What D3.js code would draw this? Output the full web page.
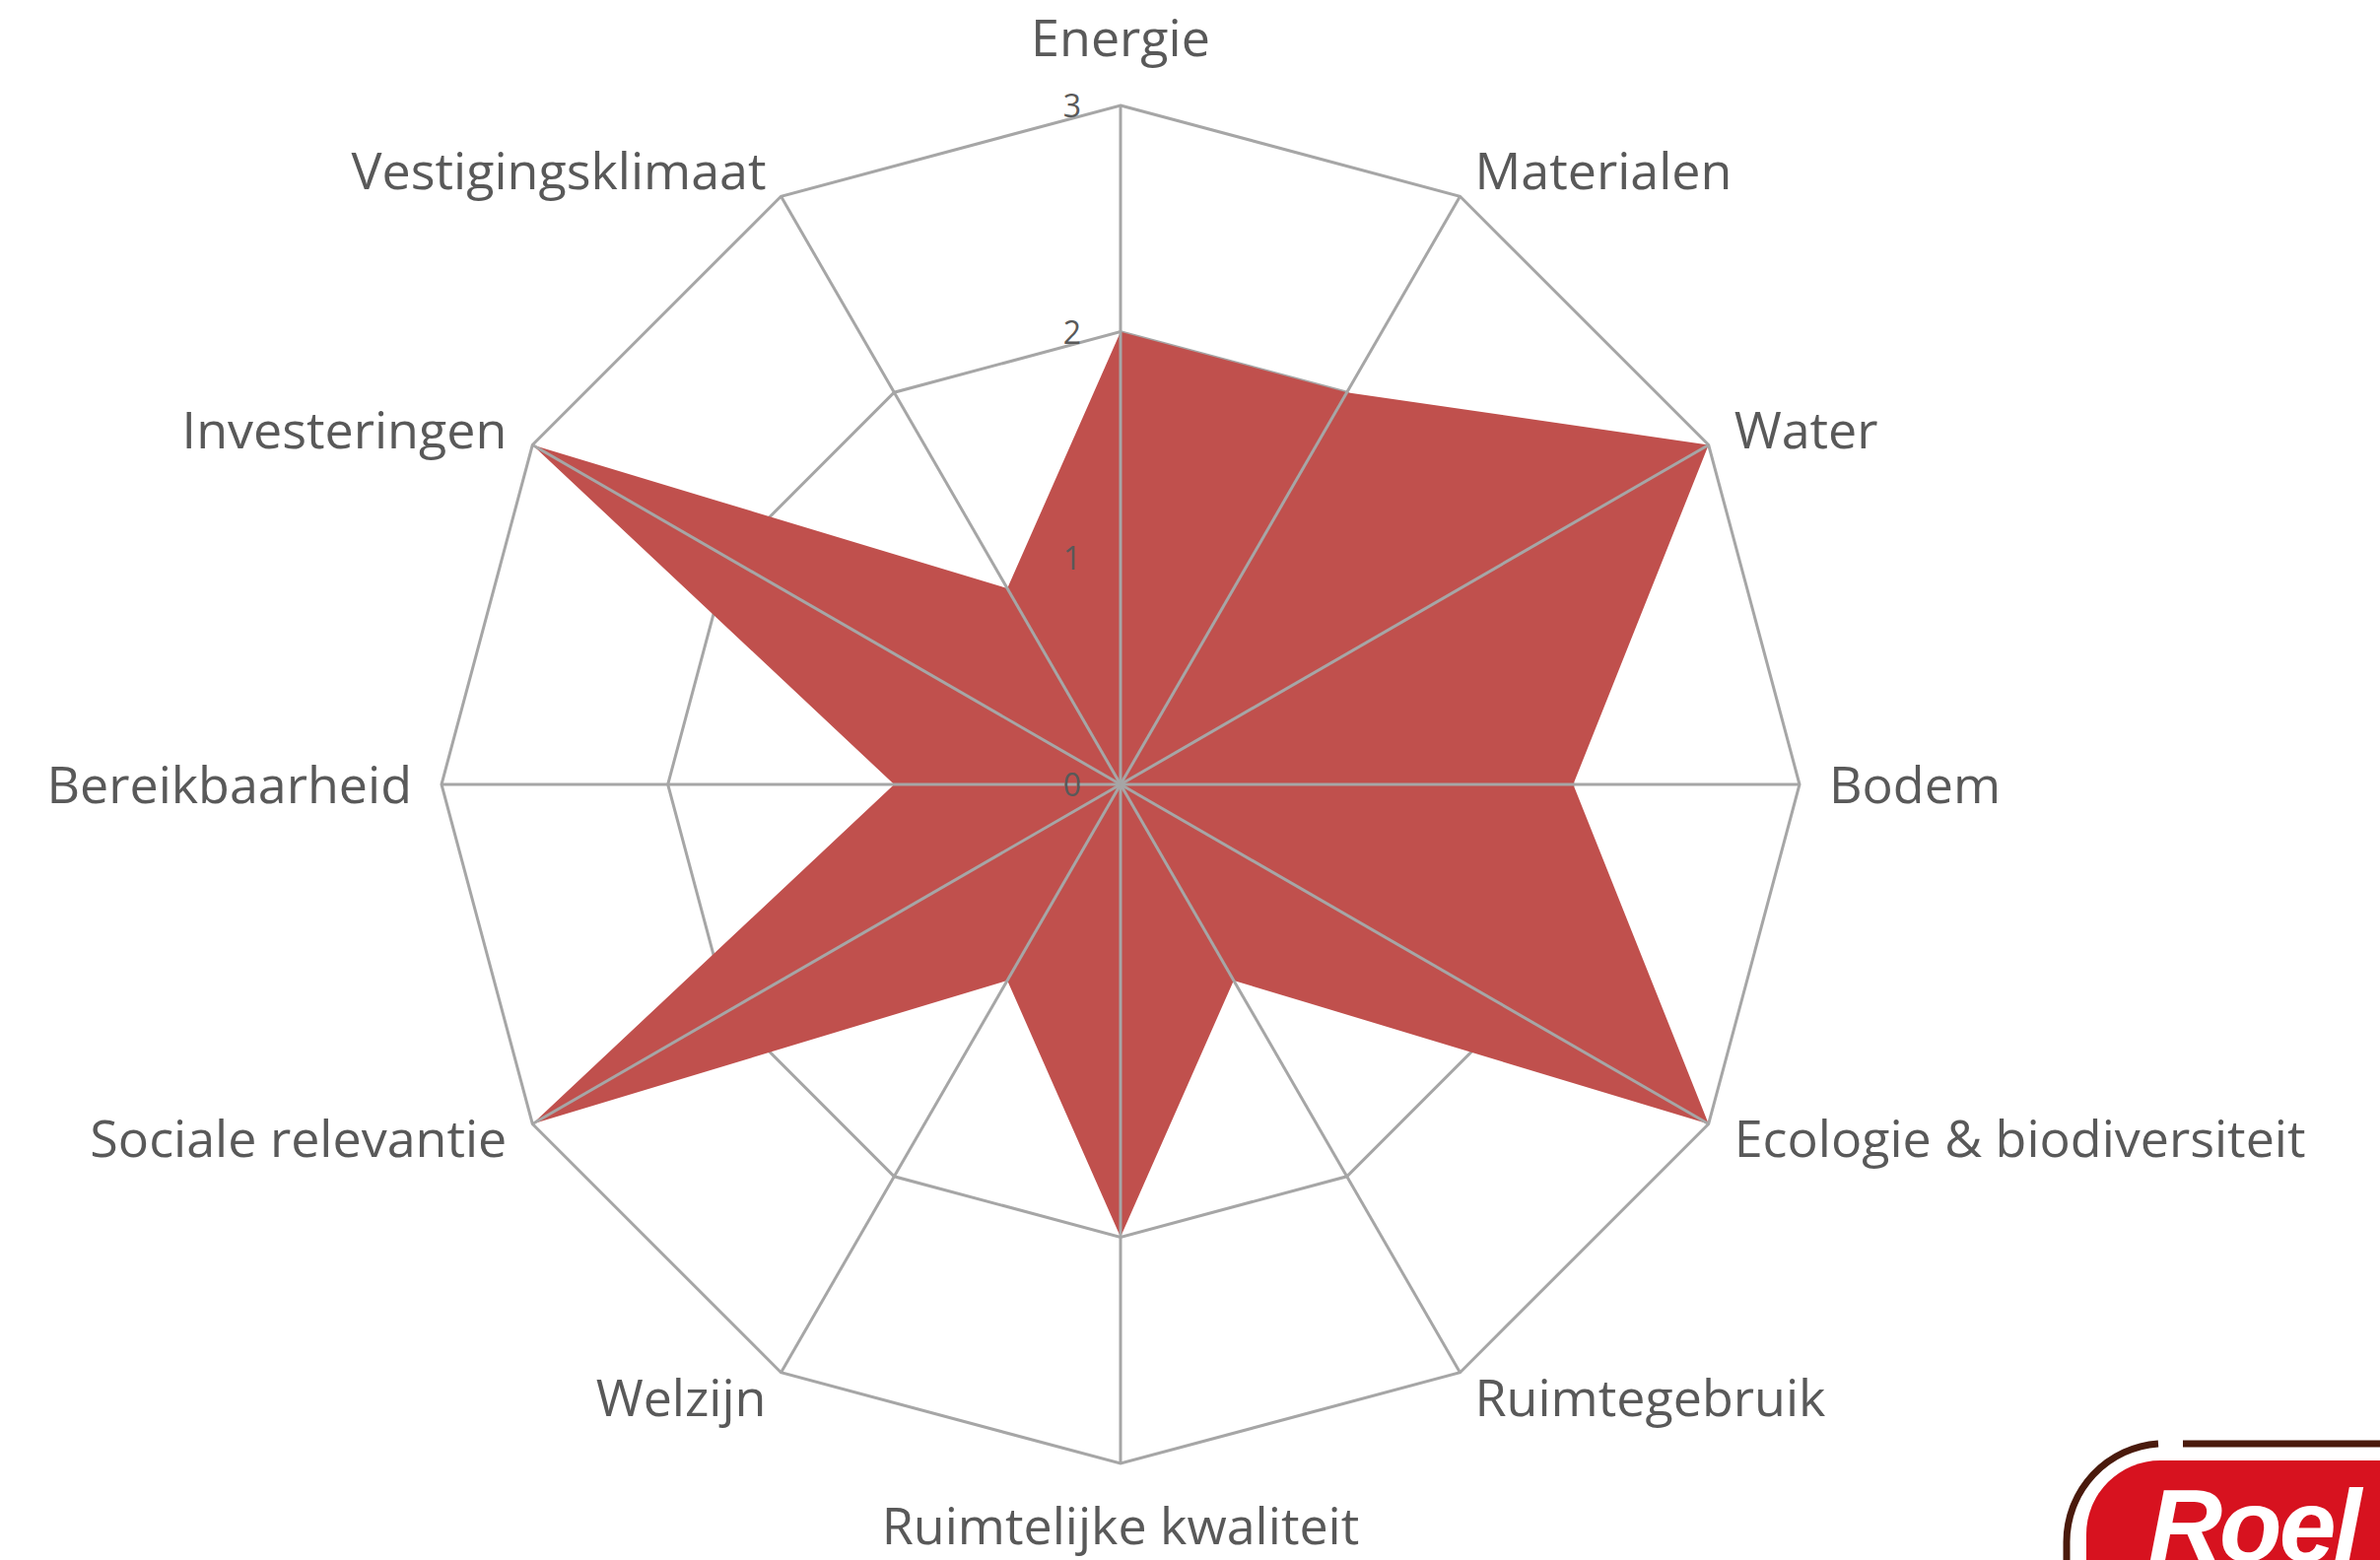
<!DOCTYPE html>
<html>
<head>
<meta charset="utf-8">
<script src="https://cdn.jsdelivr.net/npm/d3@7"></script>
<style>
  html, body { margin: 0; padding: 0; background: #ffffff; overflow: hidden; }
  svg { display: block; }
</style>
</head>
<body>
<svg id="chart" width="2415" height="1583"></svg>
<script>
// ---- data ----
const categories = ["Energie", "Materialen", "Water", "Bodem", "Ecologie & biodiversiteit",
  "Ruimtegebruik", "Ruimtelijke kwaliteit", "Welzijn", "Sociale relevantie",
  "Bereikbaarheid", "Investeringen", "Vestigingsklimaat"];
const values = [2, 2, 3, 2, 3, 1, 2, 1, 3, 1, 3, 1];
const tickValues = [0, 1, 2, 3];
const tickLabels = ["0", "1", "2", "3"];

// ---- layout ----
const W = 2415, H = 1583;
const cx = 1137, cy = 796, R = 689;
const gridColor = "#a6a6a6", textColor = "#595959", fillColor = "#c0504d";

const svg = d3.select("#chart");
const r = d3.scaleLinear().domain([0, 3]).range([0, R]);
const angle = d3.scaleLinear().domain([0, categories.length]).range([0, 2 * Math.PI]);

const pt = (i, v) => [cx + r(v) * Math.sin(angle(i)), cy - r(v) * Math.cos(angle(i))];

const g = svg.append("g");

// rings (under the fill)
const ringLine = d3.line();
tickValues.filter(t => t > 0).forEach(t => {
  const pts = categories.map((c, i) => pt(i, t));
  g.append("path")
    .attr("d", ringLine(pts) + "Z")
    .attr("fill", "none")
    .attr("stroke", gridColor)
    .attr("stroke-width", 3)
    .attr("stroke-linejoin", "miter");
});

// series area
const areaPts = values.map((v, i) => pt(i, v));
g.append("path")
  .attr("d", d3.line()(areaPts) + "Z")
  .attr("fill", fillColor)
  .attr("stroke", "none");

// spokes (over the fill)
categories.forEach((c, i) => {
  const [x, y] = pt(i, 3);
  g.append("line")
    .attr("x1", cx).attr("y1", cy)
    .attr("x2", x).attr("y2", y)
    .attr("stroke", gridColor)
    .attr("stroke-width", 3);
});

// tick labels along the first axis
tickValues.forEach((t, k) => {
  const [x, y] = pt(0, t);
  g.append("text")
    .attr("x", x - 40)
    .attr("y", y + 12)
    .attr("text-anchor", "end")
    .attr("font-family", "'Open Sans', sans-serif")
    .attr("font-size", 32)
    .attr("fill", textColor)
    .text(tickLabels[k]);
});

// category labels
categories.forEach((c, i) => {
  const a = angle(i);
  const s = Math.sin(a), co = Math.cos(a);
  const [vx, vy] = pt(i, 3);
  let x, y, anchor;
  if (Math.abs(s) < 1e-6) {
    anchor = "middle";
    x = vx;
    y = co > 0 ? vy - 50 : vy + 82;
  } else {
    anchor = s > 0 ? "start" : "end";
    x = vx + s * 30;
    y = vy - co * 30 + 18.5;
  }
  g.append("text")
    .attr("x", x).attr("y", y)
    .attr("text-anchor", anchor)
    .attr("font-family", "'Open Sans', sans-serif")
    .attr("font-size", 52)
    .attr("fill", textColor)
    .text(c);
});

// logo in the bottom-right corner (partially cut off, as in the reference)
const logo = svg.append("g");
logo.append("path")
  .attr("d", "M2190,1465 A100,100 0 0 0 2097,1565 V1600")
  .attr("fill", "none").attr("stroke", "#4a1a0c").attr("stroke-width", 7);
logo.append("path")
  .attr("d", "M2215,1465 H2420")
  .attr("fill", "none").attr("stroke", "#4a1a0c").attr("stroke-width", 7);
logo.append("path")
  .attr("d", "M2192,1482 H2420 V1600 H2117 V1557 A75,75 0 0 1 2192,1482 Z")
  .attr("fill", "#d7121f");
logo.append("text")
  .attr("x", 2180).attr("y", 1584)
  .attr("font-family", "'Liberation Sans', Arial, sans-serif")
  .attr("font-weight", "bold").attr("font-style", "italic")
  .attr("font-size", 104)
  .attr("letter-spacing", -3)
  .attr("fill", "#ffffff")
  .text("Roel");
</script>
</body>
</html>
